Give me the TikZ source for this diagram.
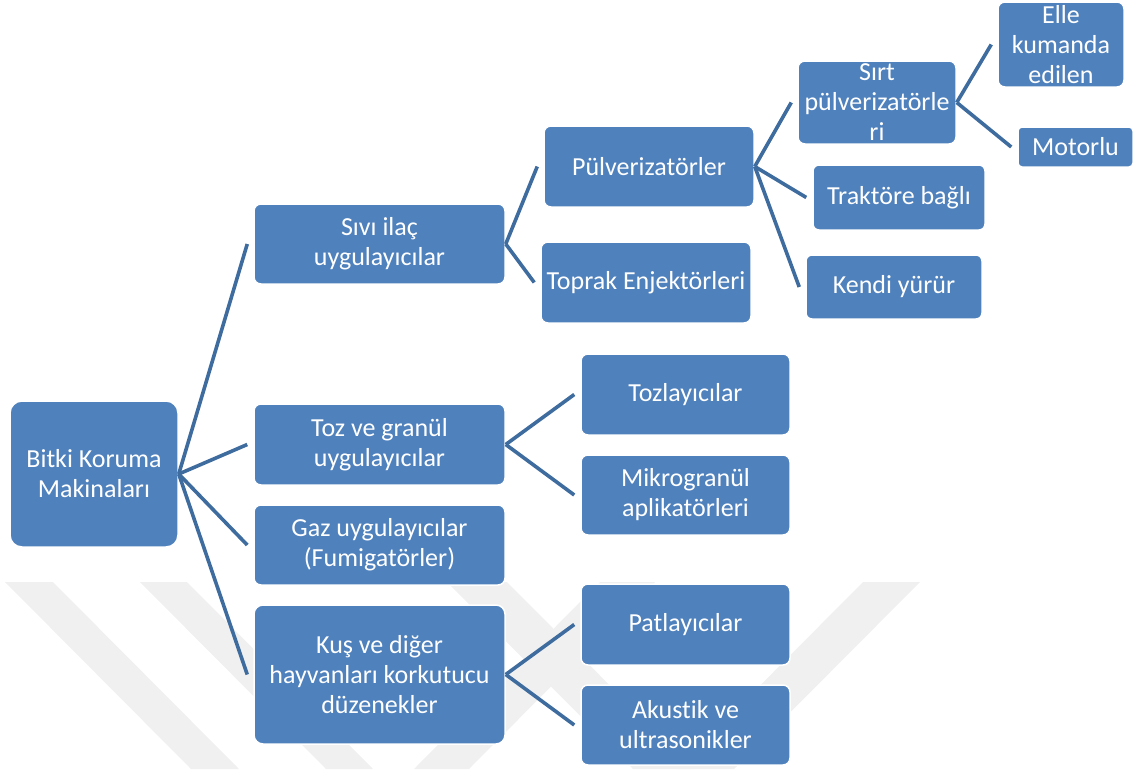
\documentclass[tikz,border=0pt]{standalone}
\usepackage{fontspec}
\setmainfont{Carlito}[Ligatures=NoCommon]
\begin{document}
\begin{tikzpicture}[x=1pt,y=-1pt,
  box/.style={rectangle, rounded corners=7pt, fill=boxblue, draw=white,
    line width=1.5pt, text=white, align=center, inner sep=0pt,
    font=\fontsize{26}{30}\selectfont},
  link/.style={draw=linkblue, line width=3.6pt},
  emblem/.style={fill=wmgray, draw=none}]
\definecolor{boxblue}{HTML}{4F81BD}
\definecolor{linkblue}{HTML}{3F6C9F}
\definecolor{wmgray}{HTML}{F0F0F0}
\useasboundingbox (0,0) rectangle (1136,769);

% faint background emblem
\fill[emblem] (5,582) -- (53,582) -- (239,769) -- (191,769) -- cycle;
\fill[emblem] (140,582) -- (187,582) -- (373,769) -- (326,769) -- cycle;
\fill[emblem] (447,582) -- (507,582) -- (693,769) -- (633,769) -- cycle;
\fill[emblem] (600,582) -- (655,582) -- (469,769) -- (414,769) -- cycle;
\fill[emblem] (863,582) -- (920,582) -- (734,769) -- (677,769) -- cycle;

% level 0
\node[box, rounded corners=12pt, minimum width=168pt, minimum height=146pt] (root) at (94,474) {Bitki Koruma\\Makinaları};

% level 1
\node[box, minimum width=251pt, minimum height=80pt] (sivi) at (379.5,244) {Sıvı ilaç\\uygulayıcılar};
\node[box, minimum width=251pt, minimum height=81pt] (toz) at (379.5,444.5) {Toz ve granül\\uygulayıcılar};
\node[box, minimum width=251pt, minimum height=80pt] (gaz) at (379.5,545) {Gaz uygulayıcılar\\(Fumigatörler)};
\node[box, rounded corners=9pt, minimum width=251pt, minimum height=139pt] (kus) at (379.5,674.5) {Kuş ve diğer\\hayvanları korkutucu\\düzenekler};

% level 2
\node[box, minimum width=210pt, minimum height=81pt] (pulv) at (649,166.5) {Pülverizatörler};
\node[box, minimum width=210pt, minimum height=81pt] (toprak) at (646,282.5) {Toprak Enjektörleri};
\node[box, minimum width=209pt, minimum height=81pt] (tozl) at (685.5,394.5) {Tozlayıcılar};
\node[box, minimum width=209pt, minimum height=80pt] (mikro) at (685.5,495) {Mikrogranül\\aplikatörleri};
\node[box, minimum width=209pt, minimum height=81pt] (patl) at (685.5,624.5) {Patlayıcılar};
\node[box, minimum width=209pt, minimum height=80pt] (akus) at (685.5,725) {Akustik ve\\ultrasonikler};

% level 3
\node[box, minimum width=158pt, minimum height=83pt] (sirt) at (877,102.5) {Sırt\\pülverizatörle\\ri};
\node[box, rounded corners=6pt, minimum width=172pt, minimum height=65pt] (trak) at (899,197.5) {Traktöre bağlı};
\node[box, rounded corners=6pt, minimum width=176pt, minimum height=64pt] (kendi) at (894,287) {Kendi yürür};

% level 4
\node[box, minimum width=126pt, minimum height=85pt] (elle) at (1061,44.5) {Elle\\kumanda\\edilen};
\node[box, rounded corners=4pt, minimum width=115pt, minimum height=40pt] (motor) at (1075.5,147) {Motorlu};

% connectors
\foreach \p/\c in {root/sivi, root/toz, root/gaz, root/kus,
                   sivi/pulv, sivi/toprak, toz/tozl, toz/mikro,
                   kus/patl, kus/akus,
                   pulv/sirt, pulv/trak, pulv/kendi,
                   sirt/elle, sirt/motor}
  \draw[link] (\p.east) -- ([xshift=-6pt]\c.west);
\end{tikzpicture}
\end{document}
